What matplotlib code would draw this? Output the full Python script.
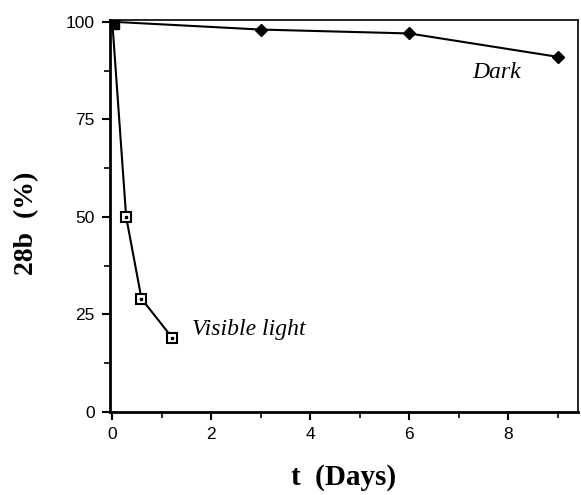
import matplotlib.pyplot as plt
from matplotlib.ticker import MultipleLocator

# data
dark_t = [0, 3, 6, 9]
dark_pct = [100, 98, 97, 91]
light_t = [0, 0.28, 0.59, 1.21]
light_pct = [100, 50, 29, 19]

x_ticks = [0, 2, 4, 6, 8]
y_ticks = [0, 25, 50, 75, 100]

fig = plt.figure(figsize=(5.81, 4.95), dpi=100)
ax = fig.add_axes([0.189, 0.168, 0.806, 0.792])

ax.plot(dark_t, dark_pct, color='black', lw=1.5, marker='D', ms=6,
        mfc='black', mec='black', zorder=3)
ax.plot(light_t, light_pct, color='black', lw=1.5, marker='s', ms=7,
        mfc='white', mec='black', mew=1.5, zorder=4)
# small dot inside each open square
ax.plot(light_t[1:], light_pct[1:], ls='none', marker='s', ms=2,
        color='black', zorder=5)
ax.plot([0], [100], marker='s', ms=10, color='black', zorder=6)

ax.set_xlim(-0.05, 9.41)
ax.set_ylim(0, 100.5)
ax.set_xticks(x_ticks)
ax.set_yticks(y_ticks)
ax.xaxis.set_minor_locator(MultipleLocator(1))
ax.yaxis.set_minor_locator(MultipleLocator(12.5))
ax.tick_params(which='major', direction='out', length=6, width=1.5,
               labelsize=12.5, pad=5)
ax.tick_params(which='minor', direction='out', length=4, width=1.2)
for lab in ax.get_xticklabels() + ax.get_yticklabels():
    lab.set_family('Liberation Sans')

for s in ['left', 'bottom']:
    ax.spines[s].set_linewidth(2)
for s in ['top', 'right']:
    ax.spines[s].set_linewidth(1.2)

ax.set_xlabel('t  (Days)', family='Liberation Serif', fontweight='bold',
              fontsize=21, labelpad=16)
ax.set_ylabel('28b  (%)', family='Liberation Serif', fontweight='bold',
              fontsize=20, labelpad=18)
ax.yaxis.set_label_coords(-0.15, 0.48)

ax.text(7.27, 85.7, 'Dark', family='Liberation Serif', style='italic',
        fontsize=17, va='baseline')
ax.text(1.62, 19.6, 'Visible light', family='Liberation Serif',
        style='italic', fontsize=17, va='baseline')

fig.savefig('out.png', dpi=100)
